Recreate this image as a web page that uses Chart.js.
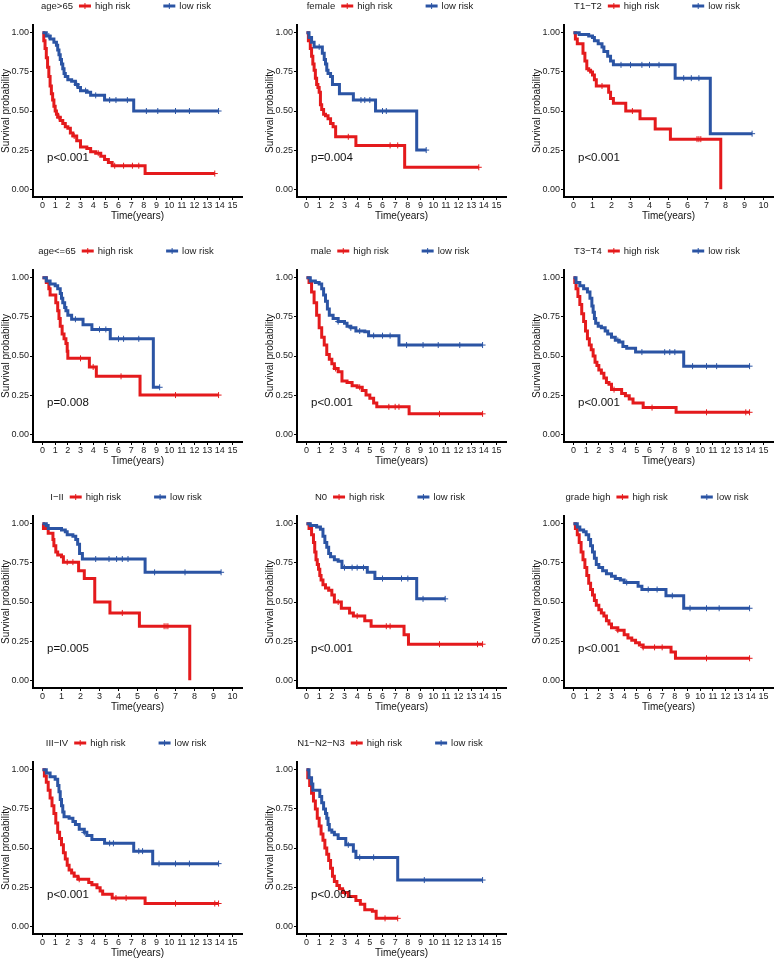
<!DOCTYPE html>
<html>
<head>
<meta charset="utf-8">
<script src="https://cdn.jsdelivr.net/npm/chart.js@4"></script>
<style>
  body { margin: 0; background: #fff; width: 778px; height: 959px; overflow: hidden; position: relative; }
  canvas { position: absolute; }
</style>
</head>
<body>
<script>
// Kaplan-Meier Kurven (Zeit in Jahren, Überlebenswahrscheinlichkeit)
const groups = ['high risk', 'low risk'];
const xTicks15 = [0, 1, 2, 3, 4, 5, 6, 7, 8, 9, 10, 11, 12, 13, 14, 15];
const xTicks10 = [0, 1, 2, 3, 4, 5, 6, 7, 8, 9, 10];
const yTicks = [0, 0.25, 0.5, 0.75, 1];

// age>65
const age65UpHighT = [0, 0.1, 0.2, 0.3, 0.4, 0.5, 0.6, 0.7, 0.8, 0.9, 1.0, 1.1, 1.2, 1.4, 1.6, 1.8, 2.0, 2.2, 2.4, 2.7, 3.0, 3.5, 3.8, 4.2, 4.6, 4.9, 5.2, 5.5, 8.1, 13.6];
const age65UpHighS = [1, 0.95, 0.9, 0.84, 0.78, 0.72, 0.66, 0.61, 0.57, 0.53, 0.5, 0.48, 0.46, 0.44, 0.42, 0.4, 0.39, 0.36, 0.34, 0.31, 0.27, 0.26, 0.24, 0.23, 0.21, 0.19, 0.17, 0.15, 0.1, 0.1];
const age65UpHighC = [1.3, 2.5, 4.4, 5.7, 6.4, 7.1, 7.6, 13.6];
const age65UpLowT = [0, 0.3, 0.6, 0.9, 1.1, 1.2, 1.3, 1.4, 1.5, 1.6, 1.7, 1.8, 2.0, 2.3, 2.6, 2.8, 3.0, 3.5, 3.8, 4.9, 7.2, 13.9];
const age65UpLowS = [1, 0.98, 0.96, 0.94, 0.92, 0.89, 0.86, 0.83, 0.8, 0.77, 0.74, 0.72, 0.7, 0.69, 0.67, 0.65, 0.63, 0.62, 0.6, 0.57, 0.5, 0.5];
const age65UpLowC = [0.5, 2.7, 3.4, 4.2, 5.3, 5.8, 6.7, 8.2, 9.1, 10.5, 11.6, 13.9];

// female
const femaleHighT = [0, 0.15, 0.3, 0.4, 0.5, 0.6, 0.7, 0.8, 0.9, 1.0, 1.1, 1.2, 1.35, 1.5, 1.7, 1.9, 2.1, 2.3, 3.9, 7.75, 13.6];
const femaleHighS = [1, 0.95, 0.9, 0.85, 0.8, 0.76, 0.71, 0.67, 0.65, 0.62, 0.54, 0.51, 0.48, 0.47, 0.45, 0.42, 0.4, 0.335, 0.28, 0.14, 0.14];
const femaleHighC = [3.3, 6.6, 7.2, 13.6];
const femaleLowT = [0, 0.2, 0.4, 0.6, 1.25, 1.4, 1.5, 1.6, 1.7, 1.9, 2.05, 2.6, 3.7, 5.45, 8.7, 9.45];
const femaleLowS = [1, 0.97, 0.94, 0.91, 0.87, 0.83, 0.8, 0.76, 0.74, 0.72, 0.67, 0.61, 0.57, 0.5, 0.25, 0.25];
const femaleLowC = [1.0, 4.3, 4.6, 5.0, 6.0, 6.3, 9.45];

// T1-T2
const t12HighT = [0, 0.1, 0.2, 0.5, 0.6, 0.7, 0.8, 0.9, 1.0, 1.1, 1.2, 1.85, 1.95, 2.1, 2.75, 3.5, 4.3, 5.1, 7.75];
const t12HighS = [1, 0.96, 0.93, 0.87, 0.82, 0.77, 0.76, 0.75, 0.73, 0.7, 0.66, 0.62, 0.58, 0.55, 0.5, 0.45, 0.385, 0.32, 0];
const t12HighC = [1.5, 3.1, 6.5, 6.6, 6.7];
const t12LowT = [0, 0.3, 0.8, 1.0, 1.1, 1.3, 1.5, 1.6, 1.8, 1.95, 2.1, 5.35, 7.2, 9.4];
const t12LowS = [1, 0.99, 0.98, 0.97, 0.95, 0.93, 0.91, 0.88, 0.85, 0.82, 0.795, 0.71, 0.355, 0.355];
const t12LowC = [2.5, 3.0, 3.6, 4.0, 4.5, 5.8, 6.2, 6.6, 9.4];

// age<=65
const age65DownHighT = [0, 0.3, 0.5, 0.6, 1.05, 1.2, 1.3, 1.4, 1.55, 1.7, 1.85, 1.95, 2.0, 3.7, 4.25, 7.7, 13.9];
const age65DownHighS = [1, 0.97, 0.93, 0.89, 0.84, 0.79, 0.74, 0.69, 0.64, 0.61, 0.58, 0.53, 0.485, 0.43, 0.37, 0.25, 0.25];
const age65DownHighC = [3.0, 4.0, 6.2, 10.5, 13.9];
const age65DownLowT = [0, 0.3, 0.6, 1.0, 1.2, 1.4, 1.5, 1.6, 1.75, 1.85, 2.0, 2.3, 3.2, 3.9, 5.35, 8.75, 9.25];
const age65DownLowS = [1, 0.98, 0.96, 0.95, 0.93, 0.9, 0.87, 0.84, 0.81, 0.79, 0.76, 0.735, 0.7, 0.67, 0.61, 0.3, 0.3];
const age65DownLowC = [2.6, 4.5, 5.0, 6.0, 6.4, 7.6, 9.25];

// male
const maleHighT = [0, 0.2, 0.4, 0.6, 0.8, 1.0, 1.2, 1.4, 1.6, 1.8, 2.0, 2.2, 2.5, 2.8, 3.2, 3.6, 4.0, 4.4, 4.7, 5.0, 5.3, 5.55, 8.1, 13.9];
const maleHighS = [1, 0.97, 0.91, 0.84, 0.76, 0.68, 0.62, 0.57, 0.51, 0.48, 0.45, 0.42, 0.4, 0.34, 0.33, 0.31, 0.3, 0.28, 0.25, 0.23, 0.2, 0.175, 0.13, 0.13];
const maleHighC = [2.3, 4.2, 6.5, 7.0, 7.3, 10.5, 13.9];
const maleLowT = [0, 0.3, 0.7, 1.0, 1.2, 1.35, 1.5, 1.65, 1.8, 2.1, 2.5, 3.0, 3.2, 3.5, 3.9, 4.6, 4.9, 7.3, 13.9];
const maleLowS = [1, 0.98, 0.97, 0.96, 0.93, 0.89, 0.85, 0.8, 0.76, 0.74, 0.72, 0.71, 0.69, 0.68, 0.66, 0.655, 0.63, 0.57, 0.57];
const maleLowC = [2.5, 3.5, 4.2, 5.3, 6.0, 6.6, 7.9, 9.2, 10.4, 12.1, 13.9];

// T3-T4
const t34HighT = [0, 0.1, 0.2, 0.35, 0.5, 0.65, 0.8, 0.95, 1.1, 1.25, 1.4, 1.55, 1.7, 1.85, 2.0, 2.2, 2.4, 2.6, 2.8, 3.0, 3.8, 4.1, 4.4, 4.7, 5.5, 8.1, 13.9];
const t34HighS = [1, 0.97, 0.93, 0.88, 0.83, 0.77, 0.72, 0.66, 0.61, 0.57, 0.54, 0.5, 0.46, 0.44, 0.41, 0.39, 0.36, 0.33, 0.32, 0.285, 0.26, 0.245, 0.225, 0.2, 0.17, 0.14, 0.14];
const t34HighC = [3.2, 6.2, 10.5, 13.6, 13.9];
const t34LowT = [0, 0.2, 0.5, 0.8, 1.1, 1.3, 1.45, 1.55, 1.65, 1.75, 1.95, 2.2, 2.5, 2.7, 3.0, 3.3, 3.6, 3.9, 4.2, 4.9, 8.7, 13.9];
const t34LowS = [1, 0.97, 0.95, 0.93, 0.91, 0.87, 0.82, 0.78, 0.74, 0.71, 0.69, 0.68, 0.66, 0.64, 0.62, 0.6, 0.59, 0.56, 0.55, 0.525, 0.435, 0.435];
const t34LowC = [3.5, 5.4, 7.2, 7.6, 8.0, 9.4, 10.5, 11.3, 13.9];

// I-II
const st12HighT = [0, 0.05, 0.3, 0.55, 0.6, 0.7, 0.8, 1.0, 1.1, 1.9, 2.2, 2.75, 3.55, 5.1, 7.75];
const st12HighS = [1, 0.97, 0.94, 0.9, 0.86, 0.82, 0.8, 0.79, 0.755, 0.7, 0.65, 0.5, 0.43, 0.345, 0];
const st12HighC = [1.3, 1.6, 4.2, 6.4, 6.5, 6.6];
const st12LowT = [0, 0.2, 0.3, 1.0, 1.2, 1.3, 1.6, 1.75, 1.85, 1.95, 2.1, 5.4, 9.4];
const st12LowS = [1, 0.99, 0.97, 0.96, 0.95, 0.93, 0.92, 0.9, 0.87, 0.81, 0.775, 0.69, 0.69];
const st12LowC = [2.8, 3.5, 3.9, 4.2, 4.5, 5.9, 7.5, 9.4];

// N0
const n0HighT = [0, 0.2, 0.4, 0.55, 0.65, 0.75, 0.85, 0.95, 1.05, 1.15, 1.3, 1.5, 1.75, 2.0, 2.2, 2.75, 3.4, 3.7, 4.6, 5.1, 7.7, 8.05, 13.9];
const n0HighS = [1, 0.97, 0.93, 0.88, 0.82, 0.77, 0.74, 0.71, 0.67, 0.64, 0.61, 0.59, 0.575, 0.545, 0.5, 0.46, 0.43, 0.41, 0.38, 0.345, 0.29, 0.23, 0.23];
const n0HighC = [2.5, 4.0, 6.3, 6.6, 10.5, 13.5, 13.9];
const n0LowT = [0, 0.3, 0.8, 1.1, 1.3, 1.45, 1.6, 1.75, 1.9, 2.2, 2.5, 2.8, 4.8, 5.4, 8.7, 10.95];
const n0LowS = [1, 0.99, 0.98, 0.965, 0.92, 0.88, 0.85, 0.81, 0.79, 0.77, 0.76, 0.72, 0.69, 0.65, 0.52, 0.52];
const n0LowC = [3.0, 3.6, 4.0, 4.5, 6.0, 7.5, 8.0, 9.2, 10.95];

// grade high
const gradeHighT = [0, 0.15, 0.3, 0.45, 0.6, 0.75, 0.9, 1.05, 1.2, 1.35, 1.5, 1.65, 1.8, 2.0, 2.2, 2.4, 2.6, 2.8, 3.0, 3.5, 4.0, 4.3, 4.6, 4.9, 5.2, 5.5, 7.7, 8.05, 13.9];
const gradeHighS = [1, 0.97, 0.93, 0.88, 0.82, 0.77, 0.72, 0.67, 0.62, 0.58, 0.545, 0.51, 0.48, 0.45, 0.43, 0.41, 0.38, 0.36, 0.335, 0.32, 0.29, 0.27, 0.255, 0.24, 0.225, 0.21, 0.18, 0.14, 0.14];
const gradeHighC = [3.5, 5.5, 6.4, 7.0, 10.5, 13.9];
const gradeLowT = [0, 0.3, 0.5, 0.8, 1.0, 1.2, 1.35, 1.5, 1.65, 1.8, 2.0, 2.3, 2.6, 3.0, 3.3, 3.7, 4.0, 5.1, 5.4, 7.3, 8.7, 13.9];
const gradeLowS = [1, 0.98, 0.96, 0.95, 0.93, 0.9, 0.86, 0.82, 0.78, 0.74, 0.72, 0.7, 0.68, 0.665, 0.65, 0.64, 0.625, 0.6, 0.58, 0.54, 0.46, 0.46];
const gradeLowC = [4.2, 5.9, 6.6, 7.8, 9.2, 10.5, 11.5, 13.9];

// III-IV
const st34HighT = [0, 0.15, 0.3, 0.45, 0.6, 0.75, 0.9, 1.05, 1.2, 1.35, 1.5, 1.65, 1.8, 1.95, 2.1, 2.3, 2.5, 2.8, 3.65, 3.9, 4.3, 4.55, 4.75, 5.5, 8.1, 13.9];
const st34HighS = [1, 0.96, 0.92, 0.87, 0.82, 0.77, 0.72, 0.66, 0.6, 0.56, 0.52, 0.47, 0.43, 0.39, 0.36, 0.34, 0.32, 0.3, 0.28, 0.265, 0.245, 0.225, 0.205, 0.18, 0.145, 0.145];
const st34HighC = [2.9, 5.8, 6.6, 10.5, 13.6, 13.9];
const st34LowT = [0, 0.3, 0.6, 1.0, 1.2, 1.3, 1.4, 1.5, 1.6, 1.7, 2.1, 2.4, 2.6, 2.9, 3.3, 3.5, 3.9, 4.9, 7.2, 8.7, 13.9];
const st34LowS = [1, 0.98, 0.955, 0.94, 0.9, 0.86, 0.81, 0.77, 0.73, 0.7, 0.69, 0.67, 0.65, 0.62, 0.6, 0.58, 0.555, 0.53, 0.48, 0.4, 0.4];
const st34LowC = [3.3, 5.3, 5.6, 7.6, 7.9, 9.2, 10.5, 11.6, 13.9];

// N1-N2-N3
const n123HighT = [0, 0.1, 0.25, 0.4, 0.55, 0.7, 0.85, 1.0, 1.15, 1.3, 1.45, 1.6, 1.75, 1.9, 2.05, 2.2, 2.4, 2.6, 2.85, 3.3, 3.9, 4.25, 4.6, 5.2, 5.5, 7.2];
const n123HighS = [1, 0.95, 0.9, 0.85, 0.8, 0.75, 0.69, 0.64, 0.59, 0.55, 0.5, 0.46, 0.42, 0.37, 0.32, 0.285, 0.26, 0.24, 0.215, 0.19, 0.165, 0.14, 0.105, 0.095, 0.05, 0.05];
const n123HighC = [3.0, 6.2, 7.2];
const n123LowT = [0, 0.2, 0.4, 0.5, 1.05, 1.2, 1.35, 1.5, 1.6, 1.7, 1.8, 2.0, 2.2, 2.5, 3.1, 3.7, 3.9, 7.2, 13.9];
const n123LowS = [1, 0.95, 0.91, 0.87, 0.83, 0.79, 0.75, 0.72, 0.69, 0.65, 0.615, 0.6, 0.585, 0.56, 0.52, 0.48, 0.44, 0.295, 0.295];
const n123LowC = [3.3, 4.2, 5.3, 9.3, 13.9];

const RED = '#E41A1C';
const BLUE = '#2B54A4';
const FONT = '"Liberation Sans", Arial, sans-serif';

// Layout der 11 Panels
const panels = [
  { title: 'age>65',    pval: 'p<0.001', ticks: xTicks15, left: 0,   top: 0,   high: [age65UpHighT, age65UpHighS, age65UpHighC], low: [age65UpLowT, age65UpLowS, age65UpLowC] },
  { title: 'female',    pval: 'p=0.004', ticks: xTicks15, left: 264, top: 0,   high: [femaleHighT, femaleHighS, femaleHighC], low: [femaleLowT, femaleLowS, femaleLowC] },
  { title: 'T1\u2212T2', pval: 'p<0.001', ticks: xTicks10, left: 531, top: 0,   high: [t12HighT, t12HighS, t12HighC], low: [t12LowT, t12LowS, t12LowC] },
  { title: 'age<=65',   pval: 'p=0.008', ticks: xTicks15, left: 0,   top: 245, high: [age65DownHighT, age65DownHighS, age65DownHighC], low: [age65DownLowT, age65DownLowS, age65DownLowC] },
  { title: 'male',      pval: 'p<0.001', ticks: xTicks15, left: 264, top: 245, high: [maleHighT, maleHighS, maleHighC], low: [maleLowT, maleLowS, maleLowC] },
  { title: 'T3\u2212T4', pval: 'p<0.001', ticks: xTicks15, left: 531, top: 245, high: [t34HighT, t34HighS, t34HighC], low: [t34LowT, t34LowS, t34LowC] },
  { title: 'I\u2212II',  pval: 'p=0.005', ticks: xTicks10, left: 0,   top: 491, high: [st12HighT, st12HighS, st12HighC], low: [st12LowT, st12LowS, st12LowC] },
  { title: 'N0',        pval: 'p<0.001', ticks: xTicks15, left: 264, top: 491, high: [n0HighT, n0HighS, n0HighC], low: [n0LowT, n0LowS, n0LowC] },
  { title: 'grade high', pval: 'p<0.001', ticks: xTicks15, left: 531, top: 491, high: [gradeHighT, gradeHighS, gradeHighC], low: [gradeLowT, gradeLowS, gradeLowC] },
  { title: 'III\u2212IV', pval: 'p<0.001', ticks: xTicks15, left: 0,   top: 737, high: [st34HighT, st34HighS, st34HighC], low: [st34LowT, st34LowS, st34LowC] },
  { title: 'N1\u2212N2\u2212N3', pval: 'p<0.001', ticks: xTicks15, left: 264, top: 737, high: [n123HighT, n123HighS, n123HighC], low: [n123LowT, n123LowS, n123LowC] }
];

function steps(t, s) {
  return t.map((v, i) => ({ x: v, y: s[i] }));
}

// Wert der Treppenfunktion an Zeitpunkt x (fuer die Zensur-Kreuze)
function survAt(t, s, x) {
  let v = s[0];
  for (let i = 0; i < t.length; i++) {
    if (t[i] <= x) v = s[i];
  }
  return v;
}

function drawKey(ctx, x, y, color) {
  ctx.strokeStyle = color;
  ctx.lineWidth = 3;
  ctx.beginPath();
  ctx.moveTo(x, y);
  ctx.lineTo(x + 12, y);
  ctx.stroke();
  ctx.lineWidth = 1;
  ctx.beginPath();
  ctx.moveTo(x + 6, y - 3);
  ctx.lineTo(x + 6, y + 3);
  ctx.stroke();
}

// Legende oben + p-Wert im Plot
const kmLegend = {
  id: 'kmLegend',
  afterDraw(chart, args, opts) {
    const ctx = chart.ctx;
    const a = chart.chartArea;
    ctx.save();
    ctx.font = '9.5px ' + FONT;
    ctx.textBaseline = 'middle';
    ctx.textAlign = 'left';
    const y = a.top - 19;
    const tw = ctx.measureText(opts.title).width;
    const hw = ctx.measureText(groups[0]).width;
    const lw = ctx.measureText(groups[1]).width;
    const total = tw + 6 + 16 + hw + 33 + 16 + lw;
    let x = a.left + 93 - total / 2;
    ctx.fillStyle = '#1a1a1a';
    ctx.fillText(opts.title, x, y);
    x += tw + 6;
    drawKey(ctx, x, y, RED);
    x += 16;
    ctx.fillStyle = '#1a1a1a';
    ctx.fillText(groups[0], x, y);
    x += hw + 33;
    drawKey(ctx, x, y, BLUE);
    x += 16;
    ctx.fillStyle = '#1a1a1a';
    ctx.fillText(groups[1], x, y);

    ctx.font = '11.5px ' + FONT;
    ctx.fillStyle = '#111';
    ctx.fillText(opts.pval, chart.scales.x.getPixelForValue(0) + 4.5, chart.scales.y.getPixelForValue(0.2));
    ctx.restore();
  }
};

panels.forEach(p => {
  const canvas = document.createElement('canvas');
  canvas.width = 247;
  canvas.height = 225;
  canvas.style.left = p.left + 'px';
  canvas.style.top = p.top + 'px';
  document.body.appendChild(canvas);

  const xMax = p.ticks[p.ticks.length - 1];
  const [hT, hS, hC] = p.high;
  const [lT, lS, lC] = p.low;

  new Chart(canvas, {
    type: 'line',
    data: {
      datasets: [
        { label: groups[1], data: steps(lT, lS), borderColor: BLUE, borderWidth: 3, stepped: true, pointRadius: 0, fill: false, order: 1, borderJoinStyle: 'miter' },
        { label: groups[0], data: steps(hT, hS), borderColor: RED, borderWidth: 3, stepped: true, pointRadius: 0, fill: false, order: 2, borderJoinStyle: 'miter' },
        { type: 'scatter', data: lC.map(c => ({ x: c, y: survAt(lT, lS, c) })), pointStyle: 'cross', pointRadius: 3, borderColor: BLUE, borderWidth: 1, order: 0 },
        { type: 'scatter', data: hC.map(c => ({ x: c, y: survAt(hT, hS, c) })), pointStyle: 'cross', pointRadius: 3, borderColor: RED, borderWidth: 1, order: 0 }
      ]
    },
    options: {
      responsive: false,
      animation: false,
      devicePixelRatio: 1,
      layout: { padding: { top: 25, left: 0, right: 1, bottom: 0 } },
      plugins: {
        legend: { display: false },
        tooltip: { enabled: false },
        kmLegend: { title: p.title, pval: p.pval }
      },
      scales: {
        x: {
          type: 'linear',
          min: -xMax * 0.05,
          max: xMax * 1.05,
          afterBuildTicks: s => { s.ticks = p.ticks.map(v => ({ value: v })); },
          afterFit: s => { s.height = 28; },
          ticks: { autoSkip: false, maxRotation: 0, padding: 0, color: '#222', font: { size: 9, family: FONT }, callback: v => String(v) },
          grid: { drawOnChartArea: false, drawTicks: true, tickLength: 3, color: '#000', lineWidth: 1 },
          border: { display: true, color: '#000', width: 2 },
          title: { display: true, text: 'Time(years)', color: '#111', font: { size: 10, family: FONT }, padding: { top: 0, bottom: 3 } }
        },
        y: {
          min: -0.05,
          max: 1.05,
          afterBuildTicks: s => { s.ticks = yTicks.map(v => ({ value: v })); },
          afterFit: s => { s.width = 33; },
          ticks: { padding: 1, color: '#222', font: { size: 9, family: FONT }, callback: v => v.toFixed(2) },
          grid: { drawOnChartArea: false, drawTicks: true, tickLength: 3, color: '#000', lineWidth: 1 },
          border: { display: true, color: '#000', width: 2 },
          title: { display: true, text: 'Survival probability', color: '#111', font: { size: 10, family: FONT }, padding: 0 }
        }
      }
    },
    plugins: [kmLegend]
  });
});
</script>
</body>
</html>
